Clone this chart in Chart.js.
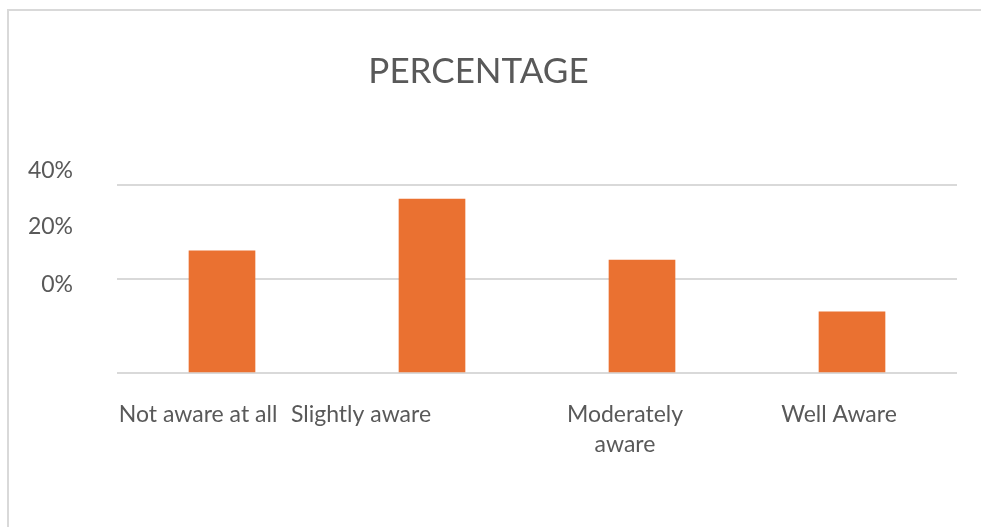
<!DOCTYPE html>
<html>
<head>
<meta charset="utf-8">
<script src="https://cdn.jsdelivr.net/npm/chart.js@4/dist/chart.umd.min.js"></script>
<style>
  html, body { margin: 0; padding: 0; background: #fff; overflow: hidden; }
  #wrap { position: relative; width: 981px; height: 527px; }
  #frame { position: absolute; left: 7px; top: 9px; width: 990px; height: 540px;
           border-left: 2px solid #d9d9d9; border-top: 2px solid #d9d9d9; }
  #chart { position: absolute; left: 0; top: 0; }
</style>
</head>
<body>
<div id="wrap">
  <div id="frame"></div>
  <canvas id="chart" width="981" height="527"></canvas>
</div>
<script>
const categories = ['Not aware at all', 'Slightly aware', ['Moderately', 'aware'], 'Well Aware'];
const percentages = [26, 37, 24, 13];
const yTickLabels = ['0%', '20%', '40%'];

const textColor = '#595959';
const fontFamily = 'Lato, "Noto Sans", sans-serif';

// the source image has its axis labels nudged away from their ticks,
// these shifts (in axis units) put them back where the picture shows them
const xLabelShift = [-0.114, -0.338, -0.081, -0.062];
const yLabelShift = [18.9, 11.2, 3.0];

const ctx = document.getElementById('chart').getContext('2d');

const chart = new Chart(ctx, {
  type: 'bar',
  data: {
    labels: categories,
    datasets: [{
      label: 'PERCENTAGE',
      data: percentages,
      backgroundColor: '#EA7131',
      borderWidth: 0,
      barThickness: 66
    }]
  },
  options: {
    responsive: false,
    devicePixelRatio: 1,
    animation: false,
    layout: { padding: { left: 0, right: 24, top: 0, bottom: 0 } },
    plugins: {
      legend: { display: false },
      tooltip: { enabled: false },
      title: {
        display: true,
        text: 'PERCENTAGE',
        color: textColor,
        font: { family: fontFamily, size: 35, weight: 'normal', lineHeight: 1.2 },
        padding: { top: 51, bottom: 92 }
      }
    },
    scales: {
      x: {
        offset: true,
        grid: { display: false, drawTicks: false },
        border: { display: false },
        ticks: {
          autoSkip: false,
          maxRotation: 0,
          minRotation: 0,
          padding: 27,
          color: textColor,
          font: { family: fontFamily, size: 23, lineHeight: 1.3 },
          callback: (v, i) => categories[i]
        },
        afterBuildTicks: (scale) => {
          scale.ticks = scale.ticks.map((t, i) => ({ value: t.value + xLabelShift[i] }));
        },
        afterFit: (scale) => { scale.height = 154; }
      },
      y: {
        position: 'left',
        min: 0,
        max: 40,
        ticks: { display: false, stepSize: 20 },
        grid: { color: '#d9d9d9', lineWidth: 2, drawTicks: false },
        border: { display: false }
      },
      yText: {
        position: 'left',
        min: 0,
        max: 40,
        grid: { display: false, drawTicks: false },
        border: { display: false },
        ticks: {
          padding: 44,
          color: textColor,
          font: { family: fontFamily, size: 23 },
          callback: (v, i) => yTickLabels[i]
        },
        afterBuildTicks: (scale) => {
          scale.ticks = yTickLabels.map((lbl, i) => ({ value: i * 20 + yLabelShift[i] }));
        },
        afterFit: (scale) => { scale.width = 117; }
      }
    }
  }
});
</script>
</body>
</html>
